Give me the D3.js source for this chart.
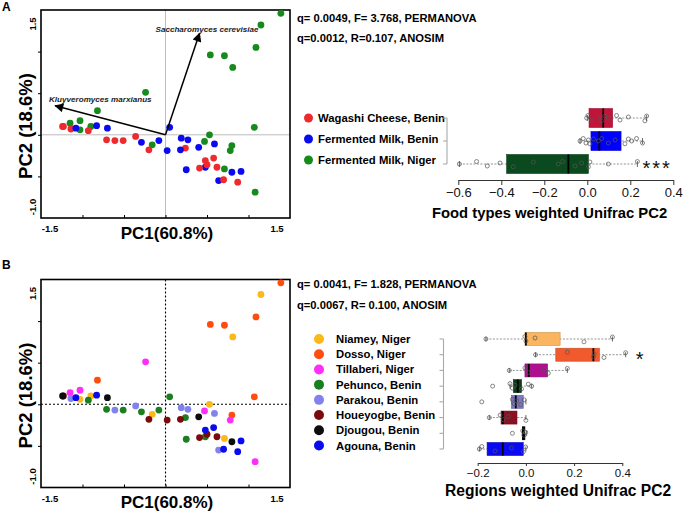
<!DOCTYPE html>
<html><head><meta charset="utf-8">
<script src="https://cdn.jsdelivr.net/npm/d3@7"></script>
<style>body{margin:0;background:#fff} svg{font-family:"Liberation Sans",Arial,sans-serif;display:block}</style>
</head><body><svg id="c" width="683" height="511"></svg>
<script>
// ---------- DATA ----------
const foodTypes = ["Wagashi Cheese, Benin", "Fermented Milk, Benin", "Fermented Milk, Niger"];
const regions = ["Niamey, Niger", "Dosso, Niger", "Tillaberi, Niger", "Pehunco, Benin",
                 "Parakou, Benin", "Houeyogbe, Benin", "Djougou, Benin", "Agouna, Benin"];
const pc1 = [1.39,1.09,0.54,0.71,-0.82,1.07,0.80,
             1.15,0.81,0.53,-0.16,-1.03,-0.90,0.71,
             -0.24,-1.15,-1.03,0.47,0.78,1.08,
             0.05,-0.93,-0.71,-0.51,-0.29,-0.08,0.24,0.25,0.48,
             -1.14,-0.61,-0.36,0.19,0.27,0.59,0.64,
             -1.23,-0.20,0.02,0.18,0.41,0.50,0.62,
             -1.24,-0.70,0.40,0.80,
             -1.08,-0.83,0.48,0.58,0.70,0.87,0.91];
const pc2 = [1.46,1.05,0.96,0.95,0.29,0.09,-0.13,
             1.32,0.81,0.00,-0.12,0.06,0.10,-0.41,
             0.51,0.14,0.17,-0.08,-0.19,-0.69,
             0.09,0.05,-0.06,-0.07,-0.09,-0.07,-0.16,-0.42,-0.39,
             0.07,-0.07,-0.02,-0.04,-0.06,-0.11,-0.55,
             0.10,-0.18,-0.19,-0.18,-0.40,-0.36,-0.39,
             0.10,0.08,-0.15,-0.45,
             0.08,0.11,-0.31,-0.28,-0.54,-0.57,-0.44];
const sampleFood = [2,2,2,2,2,2,2, 2,2,2,2,2,2,2, 2,2,2,2,2,2,
                    1,0,0,0,1,1,0,1,1, 0,0,0,1,1,1,1, 0,0,1,1,0,0,0, 0,1,1,1, 1,1,0,0,0,0,1];
const sampleRegion = [1,1,1,1,1,1,1, 0,0,0,0,0,0,0, 2,2,2,2,2,2,
                      3,3,3,3,3,3,3,3,3, 4,4,4,4,4,4,4, 5,5,5,5,5,5,5, 6,6,6,6, 7,7,7,7,7,7,7];
// biplot vectors
const vecNames = ["Saccharomyces cerevisiae", "Kluyveromyces marxianus"];
const vecPC1 = [0.41, -1.33];
const vecPC2 = [1.22, 0.35];

// boxplot stats (food types)
const foodQ1  = [0.008, 0.017, -0.375];
const foodMed = [0.074, 0.056, -0.088];
const foodQ3  = [0.118, 0.157, 0.005];
const foodLo  = [0.000, -0.034, -0.595];
const foodHi  = [0.276, 0.257, 0.233];
const foodPts = [
  [-0.003,0.003,0.02,0.059,0.067,0.082,0.098,0.136,0.152,0.191,0.268,0.276],
  [-0.034,-0.019,-0.006,0.005,0.012,0.028,0.051,0.067,0.098,0.129,0.175,0.191,0.206,0.229,0.257],
  [-0.595,-0.515,-0.465,-0.406,-0.344,-0.251,-0.135,-0.115,-0.057,-0.026,0.005,0.012,0.098,0.233]];
// boxplot stats (regions)
const regQ1  = [-0.004, 0.124, -0.004, -0.052, -0.060, -0.103, -0.015, -0.161];
const regMed = [0.000, 0.280, 0.012, -0.034, -0.042, -0.096, -0.011, -0.096];
const regQ3  = [0.142, 0.305, 0.090, -0.018, -0.011, -0.037, -0.004, -0.011];
const regLo  = [-0.166, 0.040, -0.069, -0.066, -0.060, -0.152, -0.015, -0.193];
const regHi  = [0.359, 0.414, 0.172, 0.024, 0.000, 0.000, 0.003, 0.000];
const regPts = [
  [-0.166,-0.004,0.000,0.038,0.241,0.359],
  [0.040,0.172,0.280,0.283,0.324,0.414],
  [-0.069,-0.004,0.010,0.077,0.093,0.172],
  [-0.138,-0.066,-0.056,-0.045,-0.018,0.010,0.024],
  [-0.183,-0.056,-0.048,-0.038,-0.022,-0.007],
  [-0.152,-0.107,-0.094,-0.073,0.000],
  [-0.056,-0.013,-0.008,-0.001],
  [-0.193,-0.183,-0.128,-0.059,-0.011,-0.001]];
const foodSig = ["", "", "***"];
const regSig = ["", "*", "", "", "", "", "", ""];
const foodTicks = [-0.6,-0.4,-0.2,0.0,0.2,0.4];
const regTicks = [-0.2,0.0,0.2,0.4];
const statsA = ["q= 0.0049, F= 3.768, PERMANOVA", "q=0.0012, R=0.107, ANOSIM"];
const statsB = ["q= 0.0041, F= 1.828, PERMANOVA", "q=0.0067, R= 0.100, ANOSIM"];

// ---------- STYLE ----------
const foodColors = ["#ee2a2e", "#0a0af0", "#178a1d"];
const foodBoxColors = ["#c2143a", "#0000ff", "#0b4a1e"];
const regColors = ["#fbb919", "#ff4d0f", "#ff2dfc", "#1a7f1e", "#8282ee", "#7b0a0c", "#0d0d0d", "#0a0aee"];
const regBoxColors = ["#fab55e", "#f05a2c", "#b0108f", "#0b3e17", "#7d78c2", "#8a1024", "#000000", "#0a0af0"];

const svg = d3.select("#c");
const fmt = d3.format(".1f");

svg.append("defs").append("marker").attr("id","ah")
  .attr("viewBox","0 0 10 10").attr("refX",9).attr("refY",5)
  .attr("markerWidth",11).attr("markerHeight",9).attr("markerUnits","userSpaceOnUse")
  .attr("orient","auto")
  .append("path").attr("d","M0,0 L10,5 L0,10 Z").attr("fill","#000");

function scatterPanel(top, colorFn, dotted) {
  const x = d3.scaleLinear().domain([-1.5, 1.5]).range([41, 290]);
  const y = d3.scaleLinear().domain([-1, 1.5]).range([top + 208, top]);
  const g = svg.append("g");
  const ls = dotted ? {s:"#000", w:1.1, d:"2,2"} : {s:"#b4b4b4", w:0.9, d:null};
  g.append("line").attr("x1", x(0)).attr("x2", x(0)).attr("y1", y(1.5)).attr("y2", y(-1))
    .attr("stroke", ls.s).attr("stroke-width", ls.w).attr("stroke-dasharray", ls.d);
  g.append("line").attr("x1", x(-1.5)).attr("x2", x(1.5)).attr("y1", y(0)).attr("y2", y(0))
    .attr("stroke", ls.s).attr("stroke-width", ls.w).attr("stroke-dasharray", ls.d);
  g.append("rect").attr("x", x(-1.5)).attr("y", y(1.5)).attr("width", x(1.5)-x(-1.5))
    .attr("height", y(-1)-y(1.5)).attr("fill","none").attr("stroke","#000").attr("stroke-width",1.6);
  const yt = g.append("g").attr("transform", `translate(${x(-1.5)},0)`)
    .call(d3.axisLeft(y).tickValues([-0.5,0,0.5,1.0]).tickSize(3).tickFormat(""));
  yt.select(".domain").remove();
  const xt = g.append("g").attr("transform", `translate(0,${y(-1)})`)
    .call(d3.axisTop(x).tickValues([-1,-0.5,0,0.5,1.0]).tickSize(3).tickFormat(""));
  xt.select(".domain").remove();
  g.append("text").attr("x", 50).attr("y", y(-1) + 14).attr("text-anchor","middle")
    .attr("font-size", 9.5).attr("font-weight","bold").text("-1.5");
  g.append("text").attr("x", 277).attr("y", y(-1) + 14).attr("text-anchor","middle")
    .attr("font-size", 9.5).attr("font-weight","bold").text(fmt(1.5));
  g.append("text").attr("transform", `translate(36,${top + 14}) rotate(-90)`).attr("text-anchor","middle")
    .attr("font-size", 9.5).attr("font-weight","bold").text(fmt(1.5));
  g.append("text").attr("transform", `translate(36,${top + 197}) rotate(-90)`).attr("text-anchor","middle")
    .attr("font-size", 9.5).attr("font-weight","bold").text("-1.0");
  g.append("text").attr("x", 167).attr("y", y(-1) + 20.5).attr("text-anchor","middle")
    .attr("font-size", 17).attr("font-weight","bold").text("PC1(60.8%)");
  g.append("text").attr("transform", `translate(32,${top + 116}) rotate(-90)`).attr("text-anchor","middle")
    .attr("font-size", 18.5).attr("font-weight","bold").text("PC2 (18.6%)");
  g.append("g").selectAll("circle").data(pc1.map((v,i)=>i)).join("circle")
    .attr("cx", i => x(pc1[i])).attr("cy", i => y(pc2[i])).attr("r", 3.4)
    .attr("fill", i => colorFn(i));
  return {g, x, y};
}

// Panel A
const A = scatterPanel(10, i => foodColors[sampleFood[i]], false);
vecNames.forEach((n, k) => {
  A.g.append("line").attr("x1", A.x(0)).attr("y1", A.y(0))
    .attr("x2", A.x(vecPC1[k])).attr("y2", A.y(vecPC2[k]))
    .attr("stroke","#000").attr("stroke-width",1.5).attr("marker-end","url(#ah)");
});
A.g.append("text").attr("x", 155.5).attr("y", 32).attr("font-size", 8.1)
  .attr("font-weight","bold").attr("font-style","italic").attr("fill","#222").text(vecNames[0]);
A.g.append("text").attr("x", 49).attr("y", 102).attr("font-size", 8.1)
  .attr("font-weight","bold").attr("font-style","italic").attr("fill","#222").text(vecNames[1]);

// Panel B
const B = scatterPanel(279.5, i => regColors[sampleRegion[i]], true);

svg.append("text").attr("x", 2).attr("y", 11).attr("font-size", 12).attr("font-weight","bold").text("A");
svg.append("text").attr("x", 2).attr("y", 269).attr("font-size", 12).attr("font-weight","bold").text("B");

statsA.forEach((s,k) => svg.append("text").attr("x", 297).attr("y", 22 + k*20)
  .attr("font-size", 11.2).attr("font-weight","bold").text(s));
statsB.forEach((s,k) => svg.append("text").attr("x", 297).attr("y", 288 + k*20.5)
  .attr("font-size", 11.2).attr("font-weight","bold").text(s));

function legend(names, colors, yRange, cx, tx, r) {
  const ys = d3.scalePoint().domain(names).range(yRange);
  const g = svg.append("g");
  names.forEach((n,k) => {
    g.append("circle").attr("cx", cx).attr("cy", ys(n)).attr("r", r).attr("fill", colors[k]);
    g.append("text").attr("x", tx).attr("y", ys(n) + 4).attr("font-size", 11.3)
      .attr("font-weight","bold").text(n);
  });
}
legend(foodTypes, foodColors, [118, 160], 308.5, 318, 4.5);
legend(regions, regColors, [339, 445.5], 319, 336, 5);

function boxplot(o) {
  const ticks = o.ticks;
  const x = d3.scaleLinear().domain([ticks[0], ticks[ticks.length-1]]).range(o.xr);
  const y = d3.scalePoint().domain(o.names).range(o.yr);
  const g = svg.append("g");
  g.append("line").attr("x1", o.bracketX).attr("x2", o.bracketX).attr("y1", o.yr[0]).attr("y2", o.yr[1])
    .attr("stroke","#aaa").attr("stroke-width",1.1);
  o.names.forEach(n => g.append("line").attr("x1", o.bracketX-4).attr("x2", o.bracketX)
    .attr("y1", y(n)).attr("y2", y(n)).attr("stroke","#aaa").attr("stroke-width",1.1));
  o.names.forEach((n,k) => {
    const cy = y(n);
    g.append("line").attr("x1", x(o.lo[k])).attr("x2", x(o.hi[k])).attr("y1", cy).attr("y2", cy)
      .attr("stroke","#888").attr("stroke-width",0.9).attr("stroke-dasharray","2,1.5");
    [o.lo[k], o.hi[k]].forEach(v => g.append("line").attr("x1", x(v)).attr("x2", x(v))
      .attr("y1", cy - o.capH/2).attr("y2", cy + o.capH/2).attr("stroke","#666").attr("stroke-width",1));
    g.append("rect").attr("x", x(o.q1[k])).attr("y", cy - o.boxH/2).attr("width", x(o.q3[k]) - x(o.q1[k]))
      .attr("height", o.boxH).attr("fill", o.colors[k]).attr("stroke", d3.color(o.colors[k]).darker(0.6)).attr("stroke-width",0.6);
    g.append("line").attr("x1", x(o.med[k])).attr("x2", x(o.med[k])).attr("y1", cy - o.boxH/2).attr("y2", cy + o.boxH/2)
      .attr("stroke","#000").attr("stroke-width",1.8);
    g.selectAll(null).data(o.pts[k]).join("circle")
      .attr("cx", v => x(v)).attr("cy", (v,j) => cy + [0,-2.5,2,-1,2.8,-2][j % 6])
      .attr("r", 2).attr("fill","none").attr("stroke","#555").attr("stroke-width",0.7);
    if (o.sig[k]) g.append("text").attr("x", x(o.hi[k]) + o.sigDx).attr("y", cy + o.sigFont*0.56)
      .attr("font-size", o.sigFont).attr("letter-spacing", 2).attr("fill","#111").text(o.sig[k]);
  });
  const ax = g.append("g").attr("transform", `translate(0,${o.axisY})`)
    .call(d3.axisBottom(x).tickValues(ticks).tickSize(o.tickLen).tickSizeOuter(0).tickFormat(d3.format(".1f")));
  ax.select(".domain").attr("stroke","#333");
  ax.selectAll(".tick line").attr("stroke","#333");
  ax.selectAll("text").attr("font-size", o.tickFont).attr("font-family","Liberation Sans, Arial").attr("fill","#111");
  g.append("text").attr("x", o.titleX).attr("y", o.titleY)
    .attr("font-size", o.titleFont).attr("font-weight","bold").text(o.title);
}
boxplot({names: foodTypes, q1: foodQ1, med: foodMed, q3: foodQ3, lo: foodLo, hi: foodHi, pts: foodPts,
  colors: foodBoxColors, sig: foodSig, ticks: foodTicks, xr: [458.3, 673.3], yr: [118, 164], axisY: 180,
  boxH: 19, capH: 6, tickLen: 5, tickFont: 13, title: "Food types weighted Unifrac PC2", titleX: 432, titleY: 218,
  titleFont: 14.8, bracketX: 447, sigFont: 20, sigDx: 5});
boxplot({names: regions, q1: regQ1, med: regMed, q3: regQ3, lo: regLo, hi: regHi, pts: regPts,
  colors: regBoxColors, sig: regSig, ticks: regTicks, xr: [477.7, 622.3], yr: [339, 449], axisY: 463,
  boxH: 13, capH: 5, tickLen: 3, tickFont: 11.5, title: "Regions weighted Unifrac PC2", titleX: 445, titleY: 496,
  titleFont: 15.6, bracketX: 443.5, sigFont: 20, sigDx: 10});
</script></body></html>
